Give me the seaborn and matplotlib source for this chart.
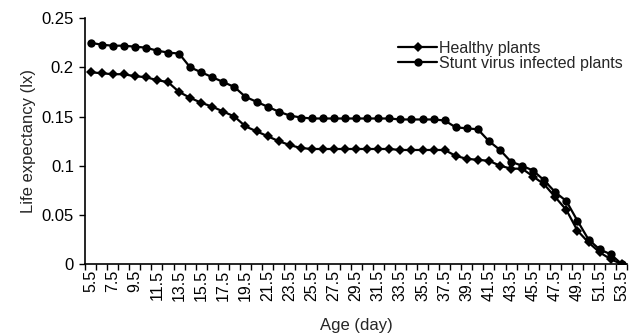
import matplotlib
matplotlib.use("Agg")
import matplotlib.pyplot as plt
import seaborn as sns
import pandas as pd
from matplotlib.ticker import FixedLocator, FormatStrFormatter

# ---- data ----
ages = [5.5, 6.5, 7.5, 8.5, 9.5, 10.5, 11.5, 12.5, 13.5, 14.5,
        15.5, 16.5, 17.5, 18.5, 19.5, 20.5, 21.5, 22.5, 23.5, 24.5,
        25.5, 26.5, 27.5, 28.5, 29.5, 30.5, 31.5, 32.5, 33.5, 34.5,
        35.5, 36.5, 37.5, 38.5, 39.5, 40.5, 41.5, 42.5, 43.5, 44.5,
        45.5, 46.5, 47.5, 48.5, 49.5, 50.5, 51.5, 52.5, 53.5]

healthy = [0.195, 0.194, 0.193, 0.193, 0.191, 0.190, 0.187, 0.185, 0.175, 0.169,
           0.164, 0.160, 0.155, 0.150, 0.140, 0.135, 0.130, 0.125, 0.121, 0.118,
           0.117, 0.117, 0.117, 0.117, 0.117, 0.117, 0.117, 0.117, 0.116, 0.116,
           0.116, 0.116, 0.116, 0.110, 0.107, 0.106, 0.105, 0.100, 0.097, 0.097,
           0.089, 0.081, 0.068, 0.055, 0.034, 0.022, 0.012, 0.005, 0.000]

infected = [0.225, 0.223, 0.222, 0.222, 0.221, 0.220, 0.217, 0.215, 0.214, 0.200,
            0.195, 0.190, 0.185, 0.180, 0.170, 0.165, 0.160, 0.155, 0.151, 0.149,
            0.148, 0.148, 0.148, 0.148, 0.148, 0.148, 0.148, 0.148, 0.147, 0.147,
            0.147, 0.147, 0.146, 0.139, 0.138, 0.137, 0.125, 0.116, 0.104, 0.100,
            0.095, 0.085, 0.073, 0.064, 0.044, 0.025, 0.015, 0.010, 0.000]

series_names = ["Healthy plants", "Stunt virus infected plants"]
y_ticks = [0, 0.05, 0.1, 0.15, 0.2, 0.25]
y_tick_labels = ["0", "0.05", "0.1", "0.15", "0.2", "0.25"]
x_label = "Age (day)"
y_label = "Life expectancy (lx)"

# ---- style ----
sns.set_style("white")
plt.rcParams['font.family'] = ['Liberation Sans', 'DejaVu Sans']

fig = plt.figure(figsize=(6.44, 3.36), dpi=100)
ax = fig.add_axes([0.132, 0.214, 0.842, 0.732])

df_h = pd.DataFrame({"Age": ages, "lx": healthy})
df_i = pd.DataFrame({"Age": ages, "lx": infected})

sns.lineplot(data=df_h, x="Age", y="lx", ax=ax, color="black", linewidth=1.6,
             marker="D", markersize=5.0, markeredgewidth=0, label=series_names[0])
sns.lineplot(data=df_i, x="Age", y="lx", ax=ax, color="black", linewidth=1.6,
             marker="o", markersize=6.0, markeredgewidth=0, label=series_names[1])

# axes limits / ticks (category-style x axis)
ax.set_xlim(ages[0] - 0.5, ages[-1] + 0.5)
ax.set_ylim(0, 0.25)
ax.xaxis.set_major_locator(FixedLocator(ages[::2]))
ax.xaxis.set_major_formatter(FormatStrFormatter('%g'))
ax.xaxis.set_minor_locator(FixedLocator([a - 0.5 for a in ages] + [ages[-1] + 0.5]))
ax.tick_params(axis='x', which='major', length=0, pad=4, labelsize=11.5, labelrotation=90,
               colors='black')
ax.tick_params(axis='x', which='minor', length=4, width=1.0, direction='out', color='black',
               bottom=True)
ax.set_yticks(y_ticks)
ax.set_yticklabels(y_tick_labels)
ax.tick_params(axis='y', which='major', length=4, width=1.0, direction='out', pad=4,
               labelsize=12, colors='black', left=True)

for s in ["top", "right"]:
    ax.spines[s].set_visible(False)
for s in ["left", "bottom"]:
    ax.spines[s].set_color("black")
    ax.spines[s].set_linewidth(1.2)

ax.grid(False)
ax.set_xlabel(x_label, fontsize=12, labelpad=12)
ax.set_ylabel(y_label, fontsize=12, labelpad=4)

leg = ax.legend(loc='upper left', bbox_to_anchor=(0.578, 0.907), frameon=False,
                fontsize=11.5, handlelength=2.4, handletextpad=0.15, labelspacing=0.0,
                borderaxespad=0, borderpad=0)

fig.savefig("out.png", dpi=100)
